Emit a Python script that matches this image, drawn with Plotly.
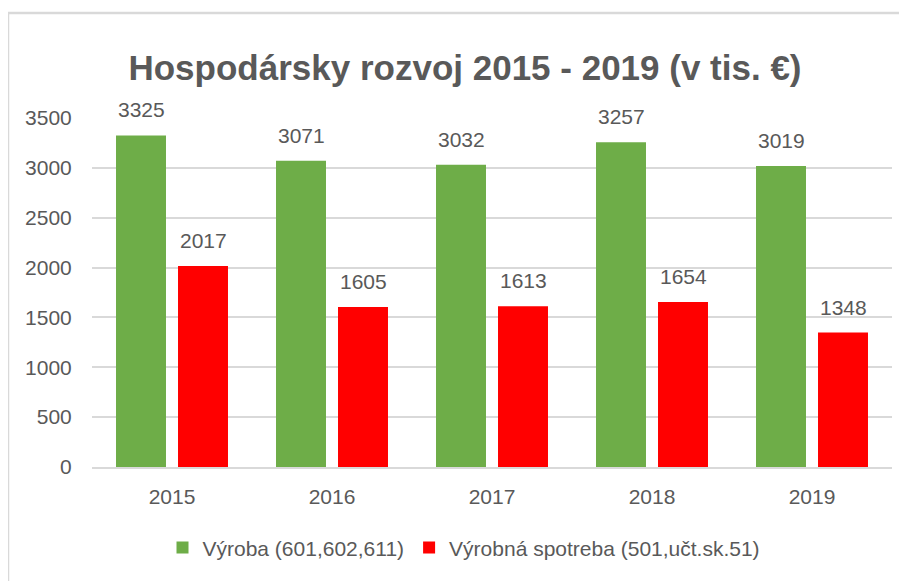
import plotly.graph_objects as go

years = ["2015", "2016", "2017", "2018", "2019"]
vyroba = [3325, 3071, 3032, 3257, 3019]
spotreba = [2017, 1605, 1613, 1654, 1348]
series_names = ["Výroba (601,602,611)", "Výrobná spotreba (501,učt.sk.51)"]
y_ticks = [0, 500, 1000, 1500, 2000, 2500, 3000, 3500]

TXT = "#595959"
FONT = "Liberation Sans"

fig = go.Figure()
fig.add_trace(go.Bar(x=years, y=vyroba, name=series_names[0],
                     marker=dict(color="#6EAD48", line=dict(width=0))))
fig.add_trace(go.Bar(x=years, y=spotreba, name=series_names[1],
                     marker=dict(color="#FF0000", line=dict(width=0))))

for vals, shift in ((vyroba, -31), (spotreba, 31)):
    for i, v in enumerate(vals):
        fig.add_annotation(x=i, y=v, text=str(v), showarrow=False,
                           xshift=shift, yshift=12, yanchor="bottom",
                           font=dict(family=FONT, size=21, color=TXT))

fig.add_shape(type="rect", xref="paper", yref="paper",
              x0=-0.105, x1=1.05, y0=-0.4, y1=1.301,
              line=dict(color="#D9D9D9", width=2.5), layer="below")

fig.update_layout(
    width=907, height=581,
    margin=dict(l=84, r=23, t=110, b=122),
    paper_bgcolor="white", plot_bgcolor="white",
    barmode="group", bargap=0.225, bargroupgap=0.194,
    title=dict(text="<b>Hospodársky rozvoj 2015 - 2019 (v tis. €)</b>",
               x=457 / 907, xref="container", xanchor="center",
               y=1 - 60 / 581, yanchor="middle",
               font=dict(family=FONT, size=35, color=TXT)),
    legend=dict(orientation="h", x=0.465, xanchor="center",
                y=-0.232, yanchor="middle",
                font=dict(family=FONT, size=21, color=TXT)),
    showlegend=True,
)
fig.update_xaxes(type="category", range=[-0.5, 4.5], showgrid=False, showline=True,
                 linecolor="#D9D9D9", linewidth=2,
                 tickfont=dict(family=FONT, size=21, color=TXT),
                 ticks="outside", ticklen=10, tickcolor="rgba(0,0,0,0)")
fig.update_yaxes(range=[0, 3500], tickvals=y_ticks, showgrid=True,
                 gridcolor="#D9D9D9", gridwidth=1.5, zeroline=False,
                 showline=False, ticks="outside", ticklen=15,
                 tickcolor="rgba(0,0,0,0)",
                 tickfont=dict(family=FONT, size=21, color=TXT))

fig.write_html("out.html")
